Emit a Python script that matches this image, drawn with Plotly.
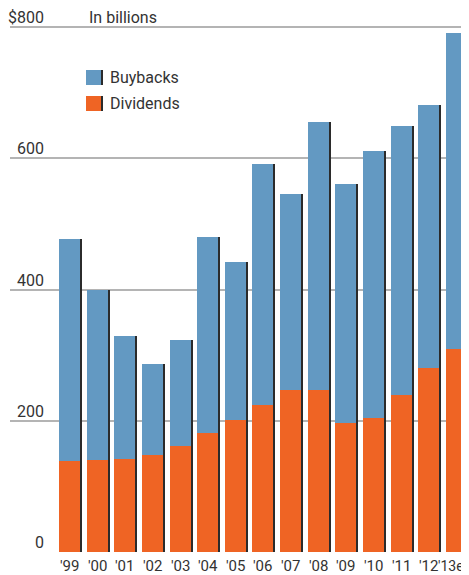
import plotly.graph_objects as go

years = ["'99", "'00", "'01", "'02", "'03", "'04", "'05", "'06", "'07", "'08", "'09", "'10", "'11", "'12", "'13e"]
totals = [478, 399, 330, 286, 323, 481, 442, 591, 546, 656, 561, 612, 650, 681, 792]
dividends = [138, 141, 142, 148, 161, 181, 201, 224, 247, 247, 196, 205, 239, 281, 310]
buybacks = [t - d for t, d in zip(totals, dividends)]
y_ticks = [0, 200, 400, 600, 800]
y_tick_labels = ["0", "200", "400", "600", "$800"]

# page has an 8px body margin; lay the figure out in window pixels
OFF = 8
WIN_W, WIN_H = 469, 575
W, H = WIN_W - OFF, WIN_H - OFF
PL, PR, PT, PB = 10, 469, 26, 552   # plot area in window pixels
L, R, T, B = PL - OFF, WIN_W - PR, PT - OFF, WIN_H - PB
pw, ph = PR - PL, PB - PT

BLUE = "#6399c2"
ORANGE = "#ef6424"
SHADOW = "#2b2b2b"
TEXT = "#333333"
GRID = "#b4b4b4"
FONT = "Roboto"

xs = list(range(len(years)))
bw = 0.76

def px_x(p):
    return (p - PL) / pw

def px_y(p):
    return 1 - (p - PT) / ph

fig = go.Figure()
fig.add_trace(go.Bar(x=xs, y=totals, width=bw, offset=-bw / 2 + 0.07,
                     marker=dict(color=SHADOW, line=dict(width=0)),
                     showlegend=False, hoverinfo="skip"))
fig.add_trace(go.Bar(x=xs, y=dividends, width=bw, offset=-bw / 2, name="Dividends",
                     marker=dict(color=ORANGE, line=dict(width=0)), showlegend=False))
fig.add_trace(go.Bar(x=xs, y=buybacks, base=dividends, width=bw, offset=-bw / 2, name="Buybacks",
                     marker=dict(color=BLUE, line=dict(width=0)), showlegend=False))

annotations = []
for v, lab in zip(y_ticks, y_tick_labels):
    annotations.append(dict(x=px_x(46), xref="paper", y=v, yref="y", text=lab,
                            showarrow=False, xanchor="right", yanchor="bottom", yshift=-2,
                            font=dict(family=FONT, size=16, color=TEXT)))
annotations.append(dict(x=px_x(87), xref="paper", y=px_y(17), yref="paper", text="In billions",
                        showarrow=False, xanchor="left", yanchor="middle",
                        font=dict(family=FONT, size=16, color=TEXT)))

# category labels under the bars
for i, lab in enumerate(years):
    last = i == len(years) - 1
    annotations.append(dict(x=(1 if last else xs[i]), xref=("paper" if last else "x"),
                            y=0, yref="paper", text=lab, showarrow=False,
                            xanchor=("right" if last else "center"), yanchor="middle", yshift=-14,
                            xshift=(-4 if last else 0), borderpad=0,
                            font=dict(family=FONT, size=(14 if last else 15), color=TEXT)))

shapes = []
legend_items = [("Buybacks", BLUE, 70), ("Dividends", ORANGE, 96)]
for name, col, top in legend_items:
    shapes.append(dict(type="rect", xref="paper", yref="paper",
                       x0=px_x(88), x1=px_x(103), y0=px_y(top + 15), y1=px_y(top),
                       fillcolor=SHADOW, line=dict(width=0)))
    shapes.append(dict(type="rect", xref="paper", yref="paper",
                       x0=px_x(86), x1=px_x(101), y0=px_y(top + 15), y1=px_y(top),
                       fillcolor=col, line=dict(width=0)))
    annotations.append(dict(x=px_x(108), xref="paper", y=px_y(top + 7.5), yref="paper", text=name,
                            showarrow=False, xanchor="left", yanchor="middle",
                            font=dict(family=FONT, size=16, color=TEXT)))

fig.update_layout(
    width=W, height=H,
    margin=dict(l=L, r=R, t=T, b=B, pad=0),
    paper_bgcolor="white", plot_bgcolor="white",
    barmode="overlay",
    bargap=0,
    showlegend=False,
    xaxis=dict(range=[-2.153, 14.454], tickvals=xs, showticklabels=False,
               showgrid=False, zeroline=False, showline=False, ticks="", fixedrange=True),
    yaxis=dict(range=[0, 802], tickvals=y_ticks, showticklabels=False,
               showgrid=True, gridcolor=GRID, gridwidth=1.5, zeroline=False,
               showline=False, ticks=""),
    annotations=annotations,
    shapes=shapes,
)

fig.write_html("out.html")
